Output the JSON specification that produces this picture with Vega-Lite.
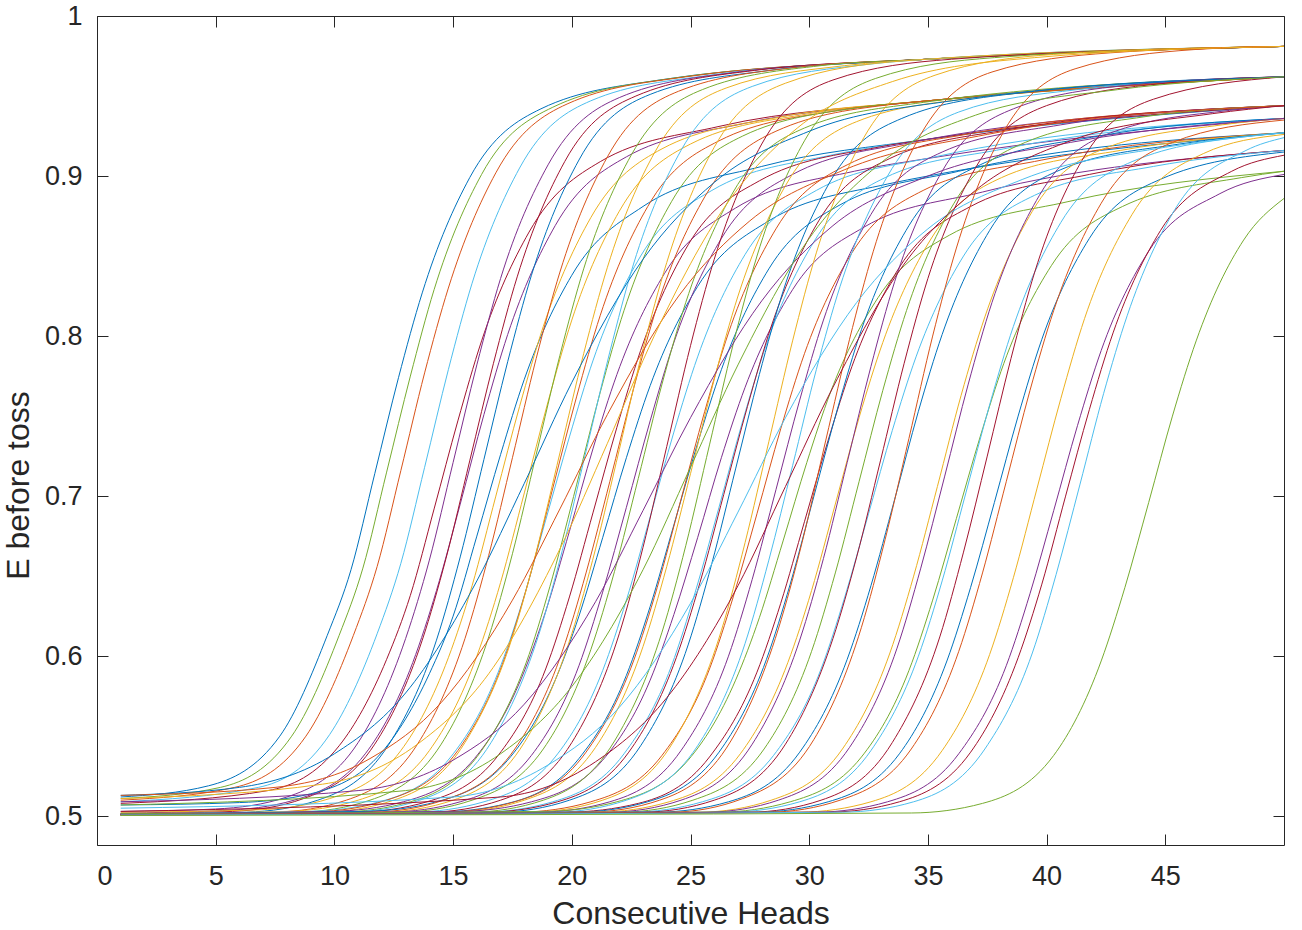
{
"$schema": "https://vega.github.io/schema/vega-lite/v6.json",
"width": 1187, "height": 829,
"autosize": {"type": "none"},
"padding": {"left": 97, "top": 16, "right": 18, "bottom": 85},
"background": "white",
"config": {"view": {"stroke": "#262626", "strokeWidth": 1}, "font": "Liberation Sans"},
"data": {"values": [
{"s":"s01","x":1,"y":0.512},{"s":"s01","x":4.7,"y":0.519},{"s":"s01","x":7.7,"y":0.550},{"s":"s01","x":9.7,"y":0.613},{"s":"s01","x":10.7,"y":0.654},{"s":"s01","x":11.7,"y":0.714},{"s":"s01","x":12.7,"y":0.774},{"s":"s01","x":13.7,"y":0.827},{"s":"s01","x":15.7,"y":0.899},{"s":"s01","x":18.7,"y":0.942},{"s":"s01","x":23.7,"y":0.960},{"s":"s01","x":35,"y":0.973},{"s":"s01","x":50,"y":0.981},
{"s":"s05","x":1,"y":0.511},{"s":"s05","x":5.2,"y":0.518},{"s":"s05","x":8.2,"y":0.550},{"s":"s05","x":10.2,"y":0.613},{"s":"s05","x":11.2,"y":0.655},{"s":"s05","x":12.2,"y":0.715},{"s":"s05","x":13.2,"y":0.775},{"s":"s05","x":14.2,"y":0.829},{"s":"s05","x":16.2,"y":0.901},{"s":"s05","x":19.2,"y":0.943},{"s":"s05","x":24.2,"y":0.961},{"s":"s05","x":35,"y":0.973},{"s":"s05","x":50,"y":0.981},
{"s":"s02","x":1,"y":0.510},{"s":"s02","x":5.8,"y":0.518},{"s":"s02","x":8.8,"y":0.550},{"s":"s02","x":10.8,"y":0.613},{"s":"s02","x":11.8,"y":0.656},{"s":"s02","x":12.8,"y":0.716},{"s":"s02","x":13.8,"y":0.777},{"s":"s02","x":14.8,"y":0.830},{"s":"s02","x":16.8,"y":0.902},{"s":"s02","x":19.8,"y":0.945},{"s":"s02","x":24.8,"y":0.962},{"s":"s02","x":35,"y":0.973},{"s":"s02","x":50,"y":0.981},
{"s":"s06","x":1,"y":0.509},{"s":"s06","x":6.8,"y":0.518},{"s":"s06","x":9.8,"y":0.551},{"s":"s06","x":11.8,"y":0.614},{"s":"s06","x":12.8,"y":0.658},{"s":"s06","x":13.8,"y":0.718},{"s":"s06","x":14.8,"y":0.779},{"s":"s06","x":15.8,"y":0.833},{"s":"s06","x":17.8,"y":0.905},{"s":"s06","x":20.8,"y":0.947},{"s":"s06","x":25.8,"y":0.963},{"s":"s06","x":35,"y":0.973},{"s":"s06","x":50,"y":0.981},
{"s":"s07","x":1,"y":0.508},{"s":"s07","x":7.2,"y":0.516},{"s":"s07","x":10.2,"y":0.544},{"s":"s07","x":12.2,"y":0.598},{"s":"s07","x":13.2,"y":0.638},{"s":"s07","x":14.2,"y":0.692},{"s":"s07","x":15.2,"y":0.747},{"s":"s07","x":16.2,"y":0.797},{"s":"s07","x":18.2,"y":0.865},{"s":"s07","x":21.2,"y":0.909},{"s":"s07","x":26.2,"y":0.931},{"s":"s07","x":35,"y":0.947},{"s":"s07","x":50,"y":0.962},
{"s":"s04","x":1,"y":0.503},{"s":"s04","x":5,"y":0.5045},{"s":"s04","x":8,"y":0.512},{"s":"s04","x":11,"y":0.546},{"s":"s04","x":13,"y":0.611},{"s":"s04","x":14,"y":0.660},{"s":"s04","x":15,"y":0.721},{"s":"s04","x":16,"y":0.782},{"s":"s04","x":17,"y":0.836},{"s":"s04","x":19,"y":0.907},{"s":"s04","x":22,"y":0.949},{"s":"s04","x":27,"y":0.965},{"s":"s04","x":35,"y":0.973},{"s":"s04","x":50,"y":0.981},
{"s":"s11","x":1,"y":0.502},{"s":"s11","x":5.3,"y":0.5035},{"s":"s11","x":8.3,"y":0.510},{"s":"s11","x":11.3,"y":0.539},{"s":"s11","x":13.3,"y":0.596},{"s":"s11","x":14.3,"y":0.641},{"s":"s11","x":15.3,"y":0.695},{"s":"s11","x":16.3,"y":0.751},{"s":"s11","x":17.3,"y":0.801},{"s":"s11","x":19.3,"y":0.869},{"s":"s11","x":22.3,"y":0.912},{"s":"s11","x":27.3,"y":0.933},{"s":"s11","x":35,"y":0.947},{"s":"s11","x":50,"y":0.962},
{"s":"s14","x":1,"y":0.5015},{"s":"s14","x":5.7,"y":0.503},{"s":"s14","x":8.7,"y":0.511},{"s":"s14","x":11.7,"y":0.545},{"s":"s14","x":13.7,"y":0.610},{"s":"s14","x":14.7,"y":0.661},{"s":"s14","x":15.7,"y":0.722},{"s":"s14","x":16.7,"y":0.783},{"s":"s14","x":17.7,"y":0.837},{"s":"s14","x":19.7,"y":0.909},{"s":"s14","x":22.7,"y":0.950},{"s":"s14","x":27.7,"y":0.966},{"s":"s14","x":35,"y":0.973},{"s":"s14","x":50,"y":0.981},
{"s":"s08","x":1,"y":0.507},{"s":"s08","x":6,"y":0.5085},{"s":"s08","x":9,"y":0.514},{"s":"s08","x":12,"y":0.540},{"s":"s08","x":14,"y":0.589},{"s":"s08","x":15,"y":0.625},{"s":"s08","x":16,"y":0.675},{"s":"s08","x":17,"y":0.726},{"s":"s08","x":18,"y":0.773},{"s":"s08","x":20,"y":0.838},{"s":"s08","x":23,"y":0.881},{"s":"s08","x":28,"y":0.906},{"s":"s08","x":35,"y":0.923},{"s":"s08","x":50,"y":0.944},
{"s":"s15","x":1,"y":0.5012},{"s":"s15","x":6.3,"y":0.5025},{"s":"s15","x":9.3,"y":0.510},{"s":"s15","x":12.3,"y":0.545},{"s":"s15","x":14.3,"y":0.610},{"s":"s15","x":15.3,"y":0.662},{"s":"s15","x":16.3,"y":0.723},{"s":"s15","x":17.3,"y":0.784},{"s":"s15","x":18.3,"y":0.838},{"s":"s15","x":20.3,"y":0.910},{"s":"s15","x":23.3,"y":0.951},{"s":"s15","x":28.3,"y":0.966},{"s":"s15","x":35,"y":0.973},{"s":"s15","x":50,"y":0.981},
{"s":"s03","x":1,"y":0.5025},{"s":"s03","x":6.8,"y":0.504},{"s":"s03","x":9.8,"y":0.511},{"s":"s03","x":12.8,"y":0.541},{"s":"s03","x":14.8,"y":0.599},{"s":"s03","x":15.8,"y":0.644},{"s":"s03","x":16.8,"y":0.700},{"s":"s03","x":17.8,"y":0.756},{"s":"s03","x":18.8,"y":0.806},{"s":"s03","x":20.8,"y":0.874},{"s":"s03","x":23.8,"y":0.917},{"s":"s03","x":28.8,"y":0.937},{"s":"s03","x":35,"y":0.947},{"s":"s03","x":50,"y":0.962},
{"s":"s09","x":1,"y":0.501},{"s":"s09","x":7.5,"y":0.5025},{"s":"s09","x":10.5,"y":0.510},{"s":"s09","x":13.5,"y":0.545},{"s":"s09","x":15.5,"y":0.611},{"s":"s09","x":16.5,"y":0.663},{"s":"s09","x":17.5,"y":0.724},{"s":"s09","x":18.5,"y":0.786},{"s":"s09","x":19.5,"y":0.840},{"s":"s09","x":21.5,"y":0.912},{"s":"s09","x":24.5,"y":0.953},{"s":"s09","x":29.5,"y":0.968},{"s":"s09","x":35,"y":0.973},{"s":"s09","x":50,"y":0.981},
{"s":"s10","x":1,"y":0.5015},{"s":"s10","x":8,"y":0.503},{"s":"s10","x":11,"y":0.510},{"s":"s10","x":14,"y":0.541},{"s":"s10","x":16,"y":0.600},{"s":"s10","x":17,"y":0.646},{"s":"s10","x":18,"y":0.702},{"s":"s10","x":19,"y":0.759},{"s":"s10","x":20,"y":0.810},{"s":"s10","x":22,"y":0.878},{"s":"s10","x":25,"y":0.920},{"s":"s10","x":30,"y":0.939},{"s":"s10","x":35,"y":0.947},{"s":"s10","x":50,"y":0.962},
{"s":"s12","x":1,"y":0.501},{"s":"s12","x":8.5,"y":0.5025},{"s":"s12","x":11.5,"y":0.510},{"s":"s12","x":14.5,"y":0.545},{"s":"s12","x":16.5,"y":0.612},{"s":"s12","x":17.5,"y":0.664},{"s":"s12","x":18.5,"y":0.726},{"s":"s12","x":19.5,"y":0.788},{"s":"s12","x":20.5,"y":0.842},{"s":"s12","x":22.5,"y":0.913},{"s":"s12","x":25.5,"y":0.954},{"s":"s12","x":30.5,"y":0.969},{"s":"s12","x":35,"y":0.973},{"s":"s12","x":50,"y":0.981},
{"s":"s13","x":1,"y":0.5015},{"s":"s13","x":8.9,"y":0.503},{"s":"s13","x":11.9,"y":0.509},{"s":"s13","x":14.9,"y":0.537},{"s":"s13","x":16.9,"y":0.590},{"s":"s13","x":17.9,"y":0.633},{"s":"s13","x":18.9,"y":0.685},{"s":"s13","x":19.9,"y":0.737},{"s":"s13","x":20.9,"y":0.785},{"s":"s13","x":22.9,"y":0.850},{"s":"s13","x":25.9,"y":0.891},{"s":"s13","x":30.9,"y":0.913},{"s":"s13","x":35,"y":0.923},{"s":"s13","x":50,"y":0.944},
{"s":"s16","x":1,"y":0.5012},{"s":"s16","x":9.2,"y":0.5028},{"s":"s16","x":12.2,"y":0.510},{"s":"s16","x":15.2,"y":0.541},{"s":"s16","x":17.2,"y":0.600},{"s":"s16","x":18.2,"y":0.648},{"s":"s16","x":19.2,"y":0.705},{"s":"s16","x":20.2,"y":0.762},{"s":"s16","x":21.2,"y":0.813},{"s":"s16","x":23.2,"y":0.881},{"s":"s16","x":26.2,"y":0.922},{"s":"s16","x":31.2,"y":0.941},{"s":"s16","x":35,"y":0.947},{"s":"s16","x":50,"y":0.962},
{"s":"s17","x":1,"y":0.501},{"s":"s17","x":9.5,"y":0.5025},{"s":"s17","x":12.5,"y":0.510},{"s":"s17","x":15.5,"y":0.546},{"s":"s17","x":17.5,"y":0.612},{"s":"s17","x":18.5,"y":0.665},{"s":"s17","x":19.5,"y":0.727},{"s":"s17","x":20.5,"y":0.789},{"s":"s17","x":21.5,"y":0.843},{"s":"s17","x":23.5,"y":0.915},{"s":"s17","x":26.5,"y":0.955},{"s":"s17","x":31.5,"y":0.969},{"s":"s17","x":35,"y":0.973},{"s":"s17","x":50,"y":0.981},
{"s":"s18","x":1,"y":0.5015},{"s":"s18","x":9.9,"y":0.503},{"s":"s18","x":12.9,"y":0.509},{"s":"s18","x":15.9,"y":0.536},{"s":"s18","x":17.9,"y":0.587},{"s":"s18","x":18.9,"y":0.628},{"s":"s18","x":19.9,"y":0.678},{"s":"s18","x":20.9,"y":0.730},{"s":"s18","x":21.9,"y":0.776},{"s":"s18","x":23.9,"y":0.839},{"s":"s18","x":26.9,"y":0.880},{"s":"s18","x":31.9,"y":0.903},{"s":"s18","x":35,"y":0.911},{"s":"s18","x":50,"y":0.936},
{"s":"s19","x":1,"y":0.501},{"s":"s19","x":10.2,"y":0.5025},{"s":"s19","x":13.2,"y":0.509},{"s":"s19","x":16.2,"y":0.541},{"s":"s19","x":18.2,"y":0.601},{"s":"s19","x":19.2,"y":0.650},{"s":"s19","x":20.2,"y":0.707},{"s":"s19","x":21.2,"y":0.765},{"s":"s19","x":22.2,"y":0.816},{"s":"s19","x":24.2,"y":0.884},{"s":"s19","x":27.2,"y":0.925},{"s":"s19","x":32.2,"y":0.943},{"s":"s19","x":35,"y":0.947},{"s":"s19","x":50,"y":0.962},
{"s":"s20","x":1,"y":0.5008},{"s":"s20","x":10.6,"y":0.5025},{"s":"s20","x":13.6,"y":0.510},{"s":"s20","x":16.6,"y":0.546},{"s":"s20","x":18.6,"y":0.613},{"s":"s20","x":19.6,"y":0.666},{"s":"s20","x":20.6,"y":0.728},{"s":"s20","x":21.6,"y":0.790},{"s":"s20","x":22.6,"y":0.845},{"s":"s20","x":24.6,"y":0.916},{"s":"s20","x":27.6,"y":0.956},{"s":"s20","x":32.6,"y":0.970},{"s":"s20","x":35,"y":0.973},{"s":"s20","x":50,"y":0.981},
{"s":"s21","x":1,"y":0.501},{"s":"s21","x":10.9,"y":0.5025},{"s":"s21","x":13.9,"y":0.509},{"s":"s21","x":16.9,"y":0.538},{"s":"s21","x":18.9,"y":0.592},{"s":"s21","x":19.9,"y":0.637},{"s":"s21","x":20.9,"y":0.690},{"s":"s21","x":21.9,"y":0.743},{"s":"s21","x":22.9,"y":0.791},{"s":"s21","x":24.9,"y":0.857},{"s":"s21","x":27.9,"y":0.897},{"s":"s21","x":32.9,"y":0.918},{"s":"s21","x":35,"y":0.923},{"s":"s21","x":50,"y":0.944},
{"s":"s22","x":1,"y":0.5015},{"s":"s22","x":11.3,"y":0.503},{"s":"s22","x":14.3,"y":0.509},{"s":"s22","x":17.3,"y":0.535},{"s":"s22","x":19.3,"y":0.585},{"s":"s22","x":20.3,"y":0.625},{"s":"s22","x":21.3,"y":0.674},{"s":"s22","x":22.3,"y":0.724},{"s":"s22","x":23.3,"y":0.769},{"s":"s22","x":25.3,"y":0.831},{"s":"s22","x":28.3,"y":0.872},{"s":"s22","x":33.3,"y":0.895},{"s":"s22","x":35,"y":0.900},{"s":"s22","x":50,"y":0.927},
{"s":"s23","x":1,"y":0.501},{"s":"s23","x":11.6,"y":0.5025},{"s":"s23","x":14.6,"y":0.510},{"s":"s23","x":17.6,"y":0.542},{"s":"s23","x":19.6,"y":0.603},{"s":"s23","x":20.6,"y":0.652},{"s":"s23","x":21.6,"y":0.709},{"s":"s23","x":22.6,"y":0.767},{"s":"s23","x":23.6,"y":0.819},{"s":"s23","x":25.6,"y":0.887},{"s":"s23","x":28.6,"y":0.928},{"s":"s23","x":33.6,"y":0.945},{"s":"s23","x":35,"y":0.947},{"s":"s23","x":50,"y":0.962},
{"s":"s24","x":1,"y":0.5008},{"s":"s24","x":12,"y":0.5025},{"s":"s24","x":15,"y":0.510},{"s":"s24","x":18,"y":0.546},{"s":"s24","x":20,"y":0.614},{"s":"s24","x":21,"y":0.667},{"s":"s24","x":22,"y":0.729},{"s":"s24","x":23,"y":0.792},{"s":"s24","x":24,"y":0.846},{"s":"s24","x":26,"y":0.918},{"s":"s24","x":29,"y":0.958},{"s":"s24","x":34,"y":0.972},{"s":"s24","x":50,"y":0.981},
{"s":"s25","x":1,"y":0.501},{"s":"s25","x":12.3,"y":0.5025},{"s":"s25","x":15.3,"y":0.509},{"s":"s25","x":18.3,"y":0.538},{"s":"s25","x":20.3,"y":0.594},{"s":"s25","x":21.3,"y":0.640},{"s":"s25","x":22.3,"y":0.693},{"s":"s25","x":23.3,"y":0.747},{"s":"s25","x":24.3,"y":0.796},{"s":"s25","x":26.3,"y":0.861},{"s":"s25","x":29.3,"y":0.901},{"s":"s25","x":34.3,"y":0.921},{"s":"s25","x":50,"y":0.944},
{"s":"s26","x":1,"y":0.501},{"s":"s26","x":12.8,"y":0.5025},{"s":"s26","x":15.8,"y":0.510},{"s":"s26","x":18.8,"y":0.542},{"s":"s26","x":20.8,"y":0.604},{"s":"s26","x":21.8,"y":0.653},{"s":"s26","x":22.8,"y":0.711},{"s":"s26","x":23.8,"y":0.770},{"s":"s26","x":24.8,"y":0.821},{"s":"s26","x":26.8,"y":0.890},{"s":"s26","x":29.8,"y":0.930},{"s":"s26","x":34.8,"y":0.946},{"s":"s26","x":50,"y":0.962},
{"s":"s27","x":1,"y":0.501},{"s":"s27","x":13.3,"y":0.5025},{"s":"s27","x":16.3,"y":0.509},{"s":"s27","x":19.3,"y":0.537},{"s":"s27","x":21.3,"y":0.591},{"s":"s27","x":22.3,"y":0.635},{"s":"s27","x":23.3,"y":0.687},{"s":"s27","x":24.3,"y":0.740},{"s":"s27","x":25.3,"y":0.787},{"s":"s27","x":27.3,"y":0.851},{"s":"s27","x":30.3,"y":0.891},{"s":"s27","x":35.3,"y":0.912},{"s":"s27","x":50,"y":0.936},
{"s":"s28","x":1,"y":0.5008},{"s":"s28","x":14,"y":0.5025},{"s":"s28","x":17,"y":0.510},{"s":"s28","x":20,"y":0.546},{"s":"s28","x":22,"y":0.614},{"s":"s28","x":23,"y":0.668},{"s":"s28","x":24,"y":0.731},{"s":"s28","x":25,"y":0.794},{"s":"s28","x":26,"y":0.848},{"s":"s28","x":28,"y":0.920},{"s":"s28","x":31,"y":0.960},{"s":"s28","x":36,"y":0.973},{"s":"s28","x":50,"y":0.981},
{"s":"s29","x":1,"y":0.501},{"s":"s29","x":14.3,"y":0.5025},{"s":"s29","x":17.3,"y":0.508},{"s":"s29","x":20.3,"y":0.536},{"s":"s29","x":22.3,"y":0.588},{"s":"s29","x":23.3,"y":0.631},{"s":"s29","x":24.3,"y":0.682},{"s":"s29","x":25.3,"y":0.733},{"s":"s29","x":26.3,"y":0.779},{"s":"s29","x":28.3,"y":0.842},{"s":"s29","x":31.3,"y":0.882},{"s":"s29","x":36.3,"y":0.903},{"s":"s29","x":50,"y":0.927},
{"s":"s30","x":1,"y":0.501},{"s":"s30","x":14.6,"y":0.5025},{"s":"s30","x":17.6,"y":0.509},{"s":"s30","x":20.6,"y":0.540},{"s":"s30","x":22.6,"y":0.597},{"s":"s30","x":23.6,"y":0.643},{"s":"s30","x":24.6,"y":0.698},{"s":"s30","x":25.6,"y":0.753},{"s":"s30","x":26.6,"y":0.802},{"s":"s30","x":28.6,"y":0.867},{"s":"s30","x":31.6,"y":0.907},{"s":"s30","x":36.6,"y":0.926},{"s":"s30","x":50,"y":0.944},
{"s":"s31","x":1,"y":0.501},{"s":"s31","x":15,"y":0.5025},{"s":"s31","x":18,"y":0.510},{"s":"s31","x":21,"y":0.543},{"s":"s31","x":23,"y":0.606},{"s":"s31","x":24,"y":0.656},{"s":"s31","x":25,"y":0.714},{"s":"s31","x":26,"y":0.773},{"s":"s31","x":27,"y":0.825},{"s":"s31","x":29,"y":0.894},{"s":"s31","x":32,"y":0.934},{"s":"s31","x":37,"y":0.949},{"s":"s31","x":50,"y":0.962},
{"s":"s32","x":1,"y":0.5015},{"s":"s32","x":15.3,"y":0.503},{"s":"s32","x":18.3,"y":0.509},{"s":"s32","x":21.3,"y":0.535},{"s":"s32","x":23.3,"y":0.585},{"s":"s32","x":24.3,"y":0.626},{"s":"s32","x":25.3,"y":0.674},{"s":"s32","x":26.3,"y":0.724},{"s":"s32","x":27.3,"y":0.768},{"s":"s32","x":29.3,"y":0.829},{"s":"s32","x":32.3,"y":0.868},{"s":"s32","x":37.3,"y":0.890},{"s":"s32","x":50,"y":0.916},
{"s":"s33","x":1,"y":0.5008},{"s":"s33","x":15.8,"y":0.5025},{"s":"s33","x":18.8,"y":0.510},{"s":"s33","x":21.8,"y":0.547},{"s":"s33","x":23.8,"y":0.615},{"s":"s33","x":24.8,"y":0.669},{"s":"s33","x":25.8,"y":0.732},{"s":"s33","x":26.8,"y":0.795},{"s":"s33","x":27.8,"y":0.850},{"s":"s33","x":29.8,"y":0.922},{"s":"s33","x":32.8,"y":0.961},{"s":"s33","x":37.8,"y":0.974},{"s":"s33","x":50,"y":0.981},
{"s":"s34","x":1,"y":0.501},{"s":"s34","x":16.2,"y":0.5025},{"s":"s34","x":19.2,"y":0.509},{"s":"s34","x":22.2,"y":0.539},{"s":"s34","x":24.2,"y":0.594},{"s":"s34","x":25.2,"y":0.640},{"s":"s34","x":26.2,"y":0.693},{"s":"s34","x":27.2,"y":0.747},{"s":"s34","x":28.2,"y":0.795},{"s":"s34","x":30.2,"y":0.859},{"s":"s34","x":33.2,"y":0.899},{"s":"s34","x":38.2,"y":0.917},{"s":"s34","x":50,"y":0.936},
{"s":"s35","x":1,"y":0.501},{"s":"s35","x":16.4,"y":0.5025},{"s":"s35","x":19.4,"y":0.509},{"s":"s35","x":22.4,"y":0.540},{"s":"s35","x":24.4,"y":0.599},{"s":"s35","x":25.4,"y":0.646},{"s":"s35","x":26.4,"y":0.701},{"s":"s35","x":27.4,"y":0.756},{"s":"s35","x":28.4,"y":0.806},{"s":"s35","x":30.4,"y":0.872},{"s":"s35","x":33.4,"y":0.911},{"s":"s35","x":38.4,"y":0.929},{"s":"s35","x":50,"y":0.944},
{"s":"s36","x":1,"y":0.501},{"s":"s36","x":16.9,"y":0.5025},{"s":"s36","x":19.9,"y":0.510},{"s":"s36","x":22.9,"y":0.544},{"s":"s36","x":24.9,"y":0.607},{"s":"s36","x":25.9,"y":0.658},{"s":"s36","x":26.9,"y":0.717},{"s":"s36","x":27.9,"y":0.776},{"s":"s36","x":28.9,"y":0.828},{"s":"s36","x":30.9,"y":0.897},{"s":"s36","x":33.9,"y":0.936},{"s":"s36","x":38.9,"y":0.952},{"s":"s36","x":50,"y":0.962},
{"s":"s37","x":1,"y":0.501},{"s":"s37","x":17.8,"y":0.5025},{"s":"s37","x":20.8,"y":0.509},{"s":"s37","x":23.8,"y":0.538},{"s":"s37","x":25.8,"y":0.592},{"s":"s37","x":26.8,"y":0.637},{"s":"s37","x":27.8,"y":0.689},{"s":"s37","x":28.8,"y":0.742},{"s":"s37","x":29.8,"y":0.789},{"s":"s37","x":31.8,"y":0.852},{"s":"s37","x":34.8,"y":0.891},{"s":"s37","x":39.8,"y":0.910},{"s":"s37","x":50,"y":0.927},
{"s":"s38","x":1,"y":0.5008},{"s":"s38","x":18.3,"y":0.5025},{"s":"s38","x":21.3,"y":0.510},{"s":"s38","x":24.3,"y":0.547},{"s":"s38","x":26.3,"y":0.616},{"s":"s38","x":27.3,"y":0.671},{"s":"s38","x":28.3,"y":0.734},{"s":"s38","x":29.3,"y":0.797},{"s":"s38","x":30.3,"y":0.852},{"s":"s38","x":32.3,"y":0.924},{"s":"s38","x":35.3,"y":0.963},{"s":"s38","x":40.3,"y":0.976},{"s":"s38","x":50,"y":0.981},
{"s":"s39","x":1,"y":0.501},{"s":"s39","x":18.6,"y":0.5025},{"s":"s39","x":21.6,"y":0.509},{"s":"s39","x":24.6,"y":0.541},{"s":"s39","x":26.6,"y":0.600},{"s":"s39","x":27.6,"y":0.648},{"s":"s39","x":28.6,"y":0.704},{"s":"s39","x":29.6,"y":0.760},{"s":"s39","x":30.6,"y":0.810},{"s":"s39","x":32.6,"y":0.876},{"s":"s39","x":35.6,"y":0.915},{"s":"s39","x":40.6,"y":0.932},{"s":"s39","x":50,"y":0.944},
{"s":"s40","x":1,"y":0.5015},{"s":"s40","x":18.9,"y":0.503},{"s":"s40","x":21.9,"y":0.509},{"s":"s40","x":24.9,"y":0.535},{"s":"s40","x":26.9,"y":0.585},{"s":"s40","x":27.9,"y":0.624},{"s":"s40","x":28.9,"y":0.672},{"s":"s40","x":29.9,"y":0.721},{"s":"s40","x":30.9,"y":0.765},{"s":"s40","x":32.9,"y":0.824},{"s":"s40","x":35.9,"y":0.863},{"s":"s40","x":40.9,"y":0.884},{"s":"s40","x":50,"y":0.903},
{"s":"s41","x":1,"y":0.501},{"s":"s41","x":19.3,"y":0.5025},{"s":"s41","x":22.3,"y":0.510},{"s":"s41","x":25.3,"y":0.544},{"s":"s41","x":27.3,"y":0.608},{"s":"s41","x":28.3,"y":0.660},{"s":"s41","x":29.3,"y":0.719},{"s":"s41","x":30.3,"y":0.779},{"s":"s41","x":31.3,"y":0.831},{"s":"s41","x":33.3,"y":0.900},{"s":"s41","x":36.3,"y":0.940},{"s":"s41","x":41.3,"y":0.954},{"s":"s41","x":50,"y":0.962},
{"s":"s42","x":1,"y":0.501},{"s":"s42","x":19.8,"y":0.5025},{"s":"s42","x":22.8,"y":0.508},{"s":"s42","x":25.8,"y":0.537},{"s":"s42","x":27.8,"y":0.590},{"s":"s42","x":28.8,"y":0.633},{"s":"s42","x":29.8,"y":0.684},{"s":"s42","x":30.8,"y":0.735},{"s":"s42","x":31.8,"y":0.781},{"s":"s42","x":33.8,"y":0.843},{"s":"s42","x":36.8,"y":0.881},{"s":"s42","x":41.8,"y":0.901},{"s":"s42","x":50,"y":0.916},
{"s":"s43","x":1,"y":0.501},{"s":"s43","x":20.2,"y":0.5025},{"s":"s43","x":23.2,"y":0.509},{"s":"s43","x":26.2,"y":0.540},{"s":"s43","x":28.2,"y":0.598},{"s":"s43","x":29.2,"y":0.645},{"s":"s43","x":30.2,"y":0.700},{"s":"s43","x":31.2,"y":0.755},{"s":"s43","x":32.2,"y":0.804},{"s":"s43","x":34.2,"y":0.869},{"s":"s43","x":37.2,"y":0.907},{"s":"s43","x":42.2,"y":0.925},{"s":"s43","x":50,"y":0.936},
{"s":"s44","x":1,"y":0.5008},{"s":"s44","x":20.7,"y":0.5025},{"s":"s44","x":23.7,"y":0.510},{"s":"s44","x":26.7,"y":0.547},{"s":"s44","x":28.7,"y":0.617},{"s":"s44","x":29.7,"y":0.671},{"s":"s44","x":30.7,"y":0.735},{"s":"s44","x":31.7,"y":0.798},{"s":"s44","x":32.7,"y":0.853},{"s":"s44","x":34.7,"y":0.926},{"s":"s44","x":37.7,"y":0.965},{"s":"s44","x":42.7,"y":0.977},{"s":"s44","x":50,"y":0.981},
{"s":"s45","x":1,"y":0.501},{"s":"s45","x":21.1,"y":0.5025},{"s":"s45","x":24.1,"y":0.509},{"s":"s45","x":27.1,"y":0.539},{"s":"s45","x":29.1,"y":0.596},{"s":"s45","x":30.1,"y":0.641},{"s":"s45","x":31.1,"y":0.695},{"s":"s45","x":32.1,"y":0.749},{"s":"s45","x":33.1,"y":0.796},{"s":"s45","x":35.1,"y":0.860},{"s":"s45","x":38.1,"y":0.899},{"s":"s45","x":43.1,"y":0.916},{"s":"s45","x":50,"y":0.927},
{"s":"s46","x":1,"y":0.501},{"s":"s46","x":21.6,"y":0.5025},{"s":"s46","x":24.6,"y":0.510},{"s":"s46","x":27.6,"y":0.545},{"s":"s46","x":29.6,"y":0.610},{"s":"s46","x":30.6,"y":0.661},{"s":"s46","x":31.6,"y":0.721},{"s":"s46","x":32.6,"y":0.781},{"s":"s46","x":33.6,"y":0.834},{"s":"s46","x":35.6,"y":0.903},{"s":"s46","x":38.6,"y":0.942},{"s":"s46","x":43.6,"y":0.957},{"s":"s46","x":50,"y":0.962},
{"s":"s47","x":1,"y":0.501},{"s":"s47","x":22.1,"y":0.5025},{"s":"s47","x":25.1,"y":0.510},{"s":"s47","x":28.1,"y":0.542},{"s":"s47","x":30.1,"y":0.603},{"s":"s47","x":31.1,"y":0.652},{"s":"s47","x":32.1,"y":0.709},{"s":"s47","x":33.1,"y":0.766},{"s":"s47","x":34.1,"y":0.816},{"s":"s47","x":36.1,"y":0.883},{"s":"s47","x":39.1,"y":0.921},{"s":"s47","x":44.1,"y":0.937},{"s":"s47","x":50,"y":0.944},
{"s":"s48","x":1,"y":0.501},{"s":"s48","x":22.5,"y":0.5025},{"s":"s48","x":25.5,"y":0.509},{"s":"s48","x":28.5,"y":0.538},{"s":"s48","x":30.5,"y":0.592},{"s":"s48","x":31.5,"y":0.637},{"s":"s48","x":32.5,"y":0.689},{"s":"s48","x":33.5,"y":0.741},{"s":"s48","x":34.5,"y":0.787},{"s":"s48","x":36.5,"y":0.850},{"s":"s48","x":39.5,"y":0.888},{"s":"s48","x":44.5,"y":0.906},{"s":"s48","x":50,"y":0.916},
{"s":"s49","x":1,"y":0.501},{"s":"s49","x":23,"y":0.5025},{"s":"s49","x":26,"y":0.510},{"s":"s49","x":29,"y":0.545},{"s":"s49","x":31,"y":0.611},{"s":"s49","x":32,"y":0.662},{"s":"s49","x":33,"y":0.722},{"s":"s49","x":34,"y":0.783},{"s":"s49","x":35,"y":0.836},{"s":"s49","x":37,"y":0.905},{"s":"s49","x":40,"y":0.944},{"s":"s49","x":45,"y":0.958},{"s":"s49","x":50,"y":0.962},
{"s":"s50","x":1,"y":0.501},{"s":"s50","x":23.6,"y":0.5025},{"s":"s50","x":26.6,"y":0.509},{"s":"s50","x":29.6,"y":0.540},{"s":"s50","x":31.6,"y":0.598},{"s":"s50","x":32.6,"y":0.644},{"s":"s50","x":33.6,"y":0.698},{"s":"s50","x":34.6,"y":0.753},{"s":"s50","x":35.6,"y":0.801},{"s":"s50","x":37.6,"y":0.866},{"s":"s50","x":40.6,"y":0.904},{"s":"s50","x":45.6,"y":0.920},{"s":"s50","x":50,"y":0.927},
{"s":"s51","x":1,"y":0.5008},{"s":"s51","x":24.2,"y":0.5025},{"s":"s51","x":27.2,"y":0.511},{"s":"s51","x":30.2,"y":0.548},{"s":"s51","x":32.2,"y":0.618},{"s":"s51","x":33.2,"y":0.673},{"s":"s51","x":34.2,"y":0.736},{"s":"s51","x":35.2,"y":0.800},{"s":"s51","x":36.2,"y":0.855},{"s":"s51","x":38.2,"y":0.928},{"s":"s51","x":41.2,"y":0.967},{"s":"s51","x":46.2,"y":0.979},{"s":"s51","x":50,"y":0.981},
{"s":"s52","x":1,"y":0.501},{"s":"s52","x":25.4,"y":0.5025},{"s":"s52","x":28.4,"y":0.510},{"s":"s52","x":31.4,"y":0.542},{"s":"s52","x":33.4,"y":0.602},{"s":"s52","x":34.4,"y":0.650},{"s":"s52","x":35.4,"y":0.706},{"s":"s52","x":36.4,"y":0.763},{"s":"s52","x":37.4,"y":0.812},{"s":"s52","x":39.4,"y":0.878},{"s":"s52","x":42.4,"y":0.917},{"s":"s52","x":47.4,"y":0.932},{"s":"s52","x":50,"y":0.936},
{"s":"s53","x":1,"y":0.501},{"s":"s53","x":25.7,"y":0.5025},{"s":"s53","x":28.7,"y":0.510},{"s":"s53","x":31.7,"y":0.543},{"s":"s53","x":33.7,"y":0.605},{"s":"s53","x":34.7,"y":0.655},{"s":"s53","x":35.7,"y":0.712},{"s":"s53","x":36.7,"y":0.770},{"s":"s53","x":37.7,"y":0.821},{"s":"s53","x":39.7,"y":0.888},{"s":"s53","x":42.7,"y":0.927},{"s":"s53","x":47.7,"y":0.941},{"s":"s53","x":50,"y":0.944},
{"s":"s54","x":1,"y":0.501},{"s":"s54","x":26.2,"y":0.5025},{"s":"s54","x":29.2,"y":0.509},{"s":"s54","x":32.2,"y":0.537},{"s":"s54","x":34.2,"y":0.591},{"s":"s54","x":35.2,"y":0.635},{"s":"s54","x":36.2,"y":0.686},{"s":"s54","x":37.2,"y":0.737},{"s":"s54","x":38.2,"y":0.783},{"s":"s54","x":40.2,"y":0.844},{"s":"s54","x":43.2,"y":0.881},{"s":"s54","x":48.2,"y":0.899},{"s":"s54","x":50,"y":0.903},
{"s":"s55","x":1,"y":0.501},{"s":"s55","x":26.6,"y":0.5025},{"s":"s55","x":29.6,"y":0.509},{"s":"s55","x":32.6,"y":0.541},{"s":"s55","x":34.6,"y":0.600},{"s":"s55","x":35.6,"y":0.647},{"s":"s55","x":36.6,"y":0.702},{"s":"s55","x":37.6,"y":0.757},{"s":"s55","x":38.6,"y":0.806},{"s":"s55","x":40.6,"y":0.871},{"s":"s55","x":43.6,"y":0.909},{"s":"s55","x":48.6,"y":0.925},{"s":"s55","x":50,"y":0.927},
{"s":"s56","x":1,"y":0.501},{"s":"s56","x":27.5,"y":0.5025},{"s":"s56","x":30.5,"y":0.510},{"s":"s56","x":33.5,"y":0.546},{"s":"s56","x":35.5,"y":0.612},{"s":"s56","x":36.5,"y":0.665},{"s":"s56","x":37.5,"y":0.725},{"s":"s56","x":38.5,"y":0.786},{"s":"s56","x":39.5,"y":0.840},{"s":"s56","x":41.5,"y":0.910},{"s":"s56","x":44.5,"y":0.948},{"s":"s56","x":50,"y":0.962},
{"s":"s57","x":1,"y":0.501},{"s":"s57","x":27.8,"y":0.5025},{"s":"s57","x":30.8,"y":0.509},{"s":"s57","x":33.8,"y":0.539},{"s":"s57","x":35.8,"y":0.597},{"s":"s57","x":36.8,"y":0.643},{"s":"s57","x":37.8,"y":0.696},{"s":"s57","x":38.8,"y":0.750},{"s":"s57","x":39.8,"y":0.798},{"s":"s57","x":41.8,"y":0.861},{"s":"s57","x":44.8,"y":0.898},{"s":"s57","x":50,"y":0.915},
{"s":"s58","x":1,"y":0.501},{"s":"s58","x":28.3,"y":0.5025},{"s":"s58","x":31.3,"y":0.510},{"s":"s58","x":34.3,"y":0.542},{"s":"s58","x":36.3,"y":0.603},{"s":"s58","x":37.3,"y":0.652},{"s":"s58","x":38.3,"y":0.709},{"s":"s58","x":39.3,"y":0.766},{"s":"s58","x":40.3,"y":0.816},{"s":"s58","x":42.3,"y":0.883},{"s":"s58","x":45.3,"y":0.921},{"s":"s58","x":50,"y":0.935},
{"s":"s59","x":1,"y":0.501},{"s":"s59","x":29.6,"y":0.5025},{"s":"s59","x":32.6,"y":0.509},{"s":"s59","x":35.6,"y":0.541},{"s":"s59","x":37.6,"y":0.601},{"s":"s59","x":38.6,"y":0.649},{"s":"s59","x":39.6,"y":0.705},{"s":"s59","x":40.6,"y":0.761},{"s":"s59","x":41.6,"y":0.811},{"s":"s59","x":43.6,"y":0.876},{"s":"s59","x":46.6,"y":0.914},{"s":"s59","x":50,"y":0.926},
{"s":"s60","x":1,"y":0.501},{"s":"s60","x":30.3,"y":0.5025},{"s":"s60","x":33.3,"y":0.509},{"s":"s60","x":36.3,"y":0.539},{"s":"s60","x":38.3,"y":0.594},{"s":"s60","x":39.3,"y":0.639},{"s":"s60","x":40.3,"y":0.691},{"s":"s60","x":41.3,"y":0.744},{"s":"s60","x":42.3,"y":0.791},{"s":"s60","x":44.3,"y":0.853},{"s":"s60","x":47.3,"y":0.889},{"s":"s60","x":50,"y":0.901},
{"s":"s63","x":1,"y":0.501},{"s":"s63","x":30.8,"y":0.5025},{"s":"s63","x":33.8,"y":0.509},{"s":"s63","x":36.8,"y":0.540},{"s":"s63","x":38.8,"y":0.599},{"s":"s63","x":39.8,"y":0.645},{"s":"s63","x":40.8,"y":0.700},{"s":"s63","x":41.8,"y":0.754},{"s":"s63","x":42.8,"y":0.802},{"s":"s63","x":44.8,"y":0.866},{"s":"s63","x":47.8,"y":0.903},{"s":"s63","x":50,"y":0.913},
{"s":"s62","x":1,"y":0.5008},{"s":"s62","x":31.4,"y":0.5025},{"s":"s62","x":34.4,"y":0.509},{"s":"s62","x":37.4,"y":0.542},{"s":"s62","x":39.4,"y":0.602},{"s":"s62","x":40.4,"y":0.651},{"s":"s62","x":41.4,"y":0.707},{"s":"s62","x":42.4,"y":0.764},{"s":"s62","x":43.4,"y":0.813},{"s":"s62","x":45.4,"y":0.879},{"s":"s62","x":48.4,"y":0.916},{"s":"s62","x":50,"y":0.924},
{"s":"s61","x":1,"y":0.5005},{"s":"s61","x":34.3,"y":0.502},{"s":"s61","x":37.3,"y":0.508},{"s":"s61","x":40.3,"y":0.538},{"s":"s61","x":42.3,"y":0.597},{"s":"s61","x":43.3,"y":0.643},{"s":"s61","x":44.3,"y":0.696},{"s":"s61","x":45.3,"y":0.750},{"s":"s61","x":46.3,"y":0.797},{"s":"s61","x":48.3,"y":0.860},{"s":"s61","x":50,"y":0.886},
{"s":"s64","x":1,"y":0.513},{"s":"s64","x":6,"y":0.518},{"s":"s64","x":10,"y":0.539},{"s":"s64","x":13,"y":0.577},{"s":"s64","x":16,"y":0.647},{"s":"s64","x":18,"y":0.708},{"s":"s64","x":20,"y":0.771},{"s":"s64","x":23,"y":0.848},{"s":"s64","x":26,"y":0.896},{"s":"s64","x":30,"y":0.928},{"s":"s64","x":36,"y":0.947},{"s":"s64","x":50,"y":0.962},
{"s":"s65","x":1,"y":0.513},{"s":"s65","x":7.5,"y":0.518},{"s":"s65","x":11.5,"y":0.536},{"s":"s65","x":14.5,"y":0.571},{"s":"s65","x":17.5,"y":0.635},{"s":"s65","x":19.5,"y":0.692},{"s":"s65","x":21.5,"y":0.751},{"s":"s65","x":24.5,"y":0.825},{"s":"s65","x":27.5,"y":0.872},{"s":"s65","x":31.5,"y":0.904},{"s":"s65","x":37.5,"y":0.926},{"s":"s65","x":50,"y":0.944},
{"s":"s66","x":1,"y":0.511},{"s":"s66","x":9.5,"y":0.520},{"s":"s66","x":13.5,"y":0.545},{"s":"s66","x":16.5,"y":0.589},{"s":"s66","x":19.5,"y":0.667},{"s":"s66","x":21.5,"y":0.733},{"s":"s66","x":23.5,"y":0.801},{"s":"s66","x":26.5,"y":0.882},{"s":"s66","x":29.5,"y":0.930},{"s":"s66","x":33.5,"y":0.959},{"s":"s66","x":39.5,"y":0.974},{"s":"s66","x":50,"y":0.981},
{"s":"s67","x":1,"y":0.509},{"s":"s67","x":11,"y":0.516},{"s":"s67","x":15,"y":0.535},{"s":"s67","x":18,"y":0.570},{"s":"s67","x":21,"y":0.634},{"s":"s67","x":23,"y":0.691},{"s":"s67","x":25,"y":0.749},{"s":"s67","x":28,"y":0.822},{"s":"s67","x":31,"y":0.869},{"s":"s67","x":35,"y":0.900},{"s":"s67","x":41,"y":0.921},{"s":"s67","x":50,"y":0.936},
{"s":"s68","x":1,"y":0.507},{"s":"s68","x":13,"y":0.516},{"s":"s68","x":17,"y":0.539},{"s":"s68","x":20,"y":0.581},{"s":"s68","x":23,"y":0.654},{"s":"s68","x":25,"y":0.718},{"s":"s68","x":27,"y":0.782},{"s":"s68","x":30,"y":0.861},{"s":"s68","x":33,"y":0.908},{"s":"s68","x":37,"y":0.938},{"s":"s68","x":43,"y":0.954},{"s":"s68","x":50,"y":0.962},
{"s":"s69","x":1,"y":0.505},{"s":"s69","x":15,"y":0.512},{"s":"s69","x":19,"y":0.532},{"s":"s69","x":22,"y":0.568},{"s":"s69","x":25,"y":0.633},{"s":"s69","x":27,"y":0.690},{"s":"s69","x":29,"y":0.749},{"s":"s69","x":32,"y":0.821},{"s":"s69","x":35,"y":0.867},{"s":"s69","x":39,"y":0.898},{"s":"s69","x":45,"y":0.918},{"s":"s69","x":50,"y":0.927},
{"s":"s70","x":1,"y":0.503},{"s":"s70","x":17,"y":0.512},{"s":"s70","x":21,"y":0.534},{"s":"s70","x":24,"y":0.574},{"s":"s70","x":27,"y":0.644},{"s":"s70","x":29,"y":0.706},{"s":"s70","x":31,"y":0.768},{"s":"s70","x":34,"y":0.845},{"s":"s70","x":37,"y":0.891},{"s":"s70","x":41,"y":0.922},{"s":"s70","x":47,"y":0.939},{"s":"s70","x":50,"y":0.944}
]},
"layer": [
{"mark": {"type": "line", "interpolate": "monotone", "strokeWidth": 1},
 "encoding": {
  "x": {"field": "x", "type": "quantitative", "scale": {"domain": [0, 50], "nice": false, "zero": false},
        "axis": {"orient": "bottom", "values": [0,5,10,15,20,25,30,35,40,45], "grid": false, "domain": false,
                 "tickSize": -11, "tickColor": "#262626", "tickWidth": 1,
                 "labelFont": "Liberation Sans", "labelFontSize": 27, "labelColor": "#262626", "labelPadding": 50, "labelBaseline": "alphabetic",
                 "title": "Consecutive Heads", "titleFont": "Liberation Sans", "titleFontSize": 32, "titleFontWeight": "normal", "titleColor": "#262626",
                 "titleBaseline": "alphabetic", "titleY": 78}},
  "y": {"field": "y", "type": "quantitative", "scale": {"domain": [0.482, 1], "nice": false, "zero": false},
        "axis": {"orient": "left", "values": [0.5,0.6,0.7,0.8,0.9,1], "format": ".1~f", "grid": false, "domain": false,
                 "tickSize": -11, "tickColor": "#262626", "tickWidth": 1,
                 "labelFont": "Liberation Sans", "labelFontSize": 27, "labelColor": "#262626", "labelPadding": 26,
                 "title": "E before toss", "titleFont": "Liberation Sans", "titleFontSize": 32, "titleFontWeight": "normal", "titleColor": "#262626",
                 "titleBaseline": "alphabetic", "titleAngle": 270, "titleAlign": "center", "titleX": -69, "titleY": 469}},
  "color": {"field": "s", "type": "nominal", "legend": null,
            "scale": {"range": ["#0072BD","#D95319","#EDB120","#7E2F8E","#77AC30","#4DBEEE","#A2142F"]}}
 }},
{"transform": [{"filter": "datum.s == 's01'"}],
 "mark": {"type": "line", "opacity": 0},
 "encoding": {
  "x": {"field": "x", "type": "quantitative",
        "axis": {"orient": "top", "values": [0,5,10,15,20,25,30,35,40,45], "grid": false, "domain": false, "labels": false, "title": null,
                 "tickSize": -11, "tickColor": "#262626", "tickWidth": 1}},
  "y": {"field": "y", "type": "quantitative",
        "axis": {"orient": "right", "values": [0.5,0.6,0.7,0.8,0.9,1], "grid": false, "domain": false, "labels": false, "title": null,
                 "tickSize": -11, "tickColor": "#262626", "tickWidth": 1}}
 }}
],
"resolve": {"axis": {"x": "independent", "y": "independent"}}
}
